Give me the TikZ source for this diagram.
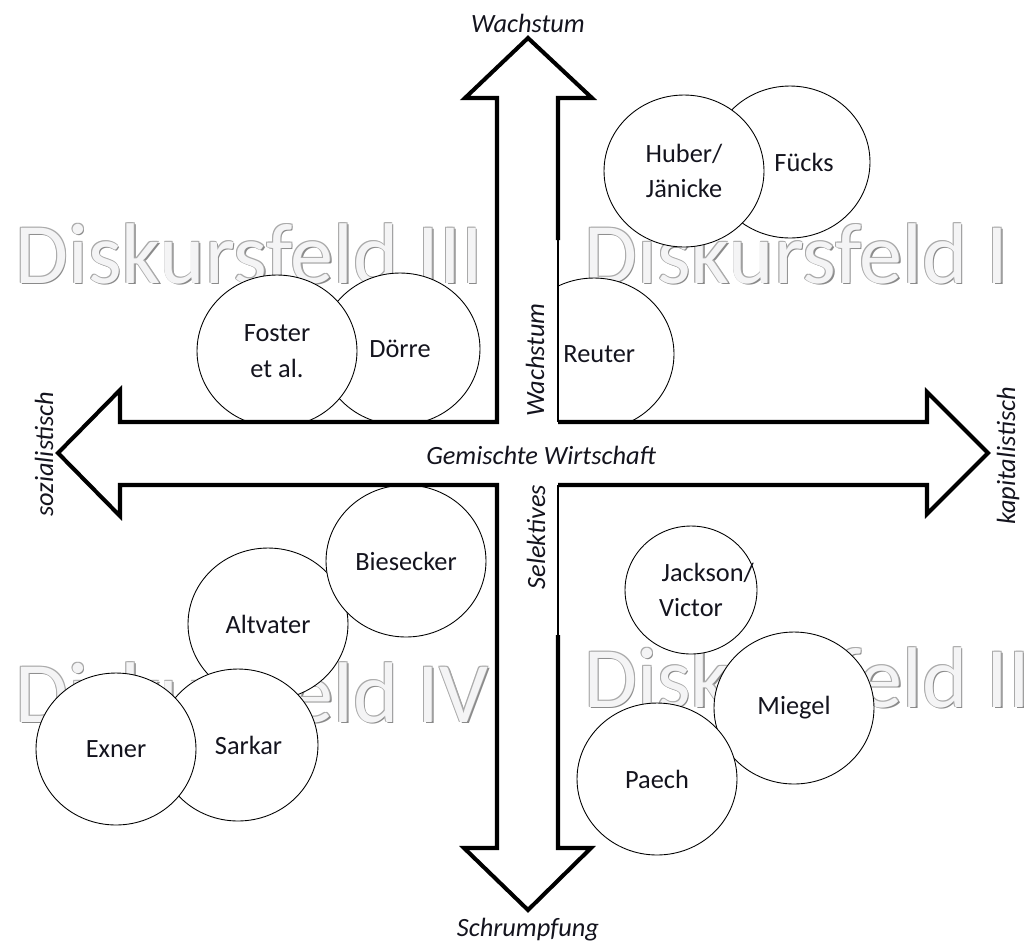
\documentclass[tikz,border=0pt]{standalone}
\usepackage{fontspec}
\setmainfont{Carlito}
\usetikzlibrary{positioning,
                shapes.geometric}           % ellipse nodes

\definecolor{feldfill}{HTML}{F4F4F5}
\definecolor{feldrand}{HTML}{AAAAAA}
\definecolor{feldschatten}{HTML}{8A8A8A}
\definecolor{schrift}{HTML}{14141E}

\tikzset{
  autor/.style={draw, ellipse, fill=white, line width=0.5pt, inner sep=0pt,
                minimum width=3.2cm, minimum height=3.04cm, align=center,
                text=schrift, font=\fontsize{15}{20.4}\selectfont},
  achse/.style={text=schrift, inner sep=0pt, font=\fontsize{15}{18}\selectfont\itshape},
  pfeil/.style={line width=2.3pt, line join=miter, line cap=square},
  feldtext/.style={anchor=base west, inner sep=0pt, font=\fontsize{49}{49}\selectfont},
}

% outlined grey field title: name, coordinate, text
\newcommand{\feldtitel}[3]{%
  \node[feldtext, text=feldschatten] at ([shift={(0.9pt,-0.9pt)}]#2) {#3};
  \foreach \dx/\dy in {-0.45/0.45, 0.45/0.45, -0.45/-0.45}
    \node[feldtext, text=feldrand] at ([shift={(\dx pt,\dy pt)}]#2) {#3};
  \node[feldtext, text=feldfill] (#1) at (#2) {#3};
}

\begin{document}
\begin{tikzpicture}[x=0.02cm, y=-0.02cm]
        \useasboundingbox (0,0) rectangle (1024,944);
        \clip (0,0) rectangle (1024,944);

        \coordinate (pos1) at (584,283);
        \coordinate (pos2) at (584,707);
        \coordinate (pos3) at (15,283);
        \coordinate (pos4) at (15,722);
        \feldtitel{feld1}{pos1}{Diskursfeld I}
        \feldtitel{feld2}{pos2}{Diskursfeld II}
        \feldtitel{feld3}{pos3}{Diskursfeld III}
        \feldtitel{feld4}{pos4}{Diskursfeld IV}

        % Diskursfeld I
        \node[autor] (fuecks) at (790,162) {\hspace*{16pt}Fücks};
        \node[autor] (huber) at (684,171) {Huber/\\Jänicke};
        \node[autor] (reuter) at (594,354) {\hspace*{6pt}Reuter};

        % Diskursfeld III
        \node[autor] (doerre) at (400,349) {Dörre};
        \node[autor] (foster) at (277,351) {Foster\\et al.};

        % Diskursfeld IV
        \node[autor] (altvater) at (268,624) {Altvater};
        \node[autor] (biesecker) at (406,561) {Biesecker};
        \node[autor] (sarkar) at (238,745) {\hspace*{12pt}Sarkar};
        \node[autor] (exner) at (116,749) {Exner};

        % Diskursfeld II
        \node[autor, minimum width=2.64cm, minimum height=2.56cm] (jackson) at (691,590)
                {\makebox[0pt]{\hspace*{19pt}Jackson/}\\\makebox[0pt]{Victor}};
        \node[autor] (miegel) at (794,708) {Miegel};
        \node[autor] (paech) at (657,779) {Paech};

        % Achsenkreuz
        \fill[white] (528,38) -- (592,98) -- (558,98) -- (558,422) -- (927,422)
                -- (927,392) -- (988,453) -- (927,514) -- (927,485) -- (558,485)
                -- (558,848) -- (591,848) -- (528,910) -- (464,848) -- (497,848)
                -- (497,485) -- (120,485) -- (120,516) -- (58,453) -- (120,390)
                -- (120,422) -- (497,422) -- (497,98) -- (465,98) -- cycle;
        \draw[pfeil] (558,240) -- (558,98) -- (592,98) -- (528,38) -- (465,98)
                -- (497,98) -- (497,422) -- (120,422) -- (120,390) -- (58,453)
                -- (120,516) -- (120,485) -- (497,485) -- (497,848) -- (464,848)
                -- (528,910) -- (591,848) -- (558,848) -- (558,635);
        \draw[pfeil] (558,422) -- (927,422) -- (927,392) -- (988,453)
                -- (927,514) -- (927,485) -- (558,485);
        \draw[line width=0.8pt] (558,240) -- (558,422) (558,485) -- (558,635);

        \node[achse] (oben) at (528,23) {Wachstum};
        \node[achse] (unten) at (528,930) {Schrumpfung};
        \node[achse, rotate=90] (links) at (44,454) {sozialistisch};
        \node[achse, rotate=90] (rechts) at (1008,456) {kapitalistisch};
        \node[achse] (mitte) at (541,455) {Gemischte Wirtschaft};
        \node[achse, rotate=90] (wachstum) at (535,360) {Wachstum};
        \node[achse, rotate=90] (selektiv) at (536,537) {Selektives};

\end{tikzpicture}
\end{document}
